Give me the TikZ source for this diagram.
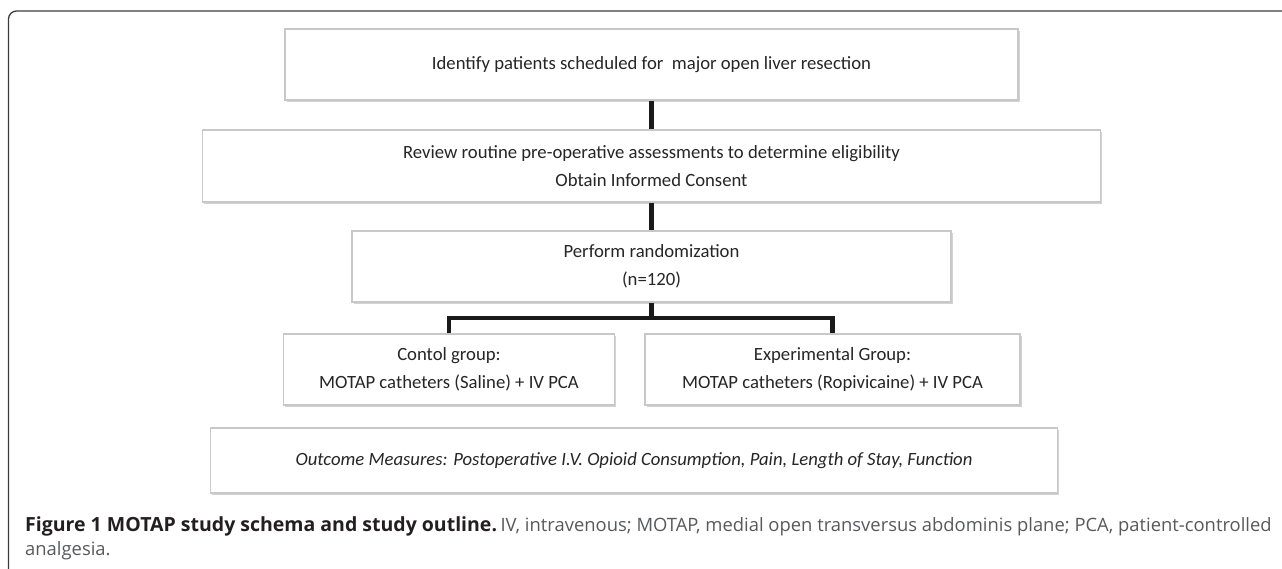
\documentclass[tikz,border=0pt]{standalone}
\usepackage{fontspec}
\setmainfont{Carlito}
\newfontfamily\capfont{Open Sans}
\usetikzlibrary{shadows}
\definecolor{boxline}{RGB}{200, 200, 200}
\definecolor{boxtext}{RGB}{38, 38, 38}
\definecolor{linkline}{RGB}{26, 26, 26}
\definecolor{frameline}{RGB}{60, 60, 60}
\definecolor{capbold}{RGB}{35, 31, 32}
\definecolor{captext}{RGB}{88, 89, 91}

\tikzset{
    stagebox/.style={draw=boxline, fill=white, line width=1.1pt, align=center, inner sep=0pt,
                     text=boxtext, font=\fontsize{18.7}{28.5}\selectfont,
                     drop shadow={shadow xshift=1.6pt, shadow yshift=-1.6pt, opacity=0.35, fill=gray}},
    link/.style={draw=linkline, line width=4.6pt},
}

\begin{document}
\begin{tikzpicture}[x=1pt, y=-1pt]
            \useasboundingbox (0,0) rectangle (1282,569);
            \draw[frameline, line width=1.3pt, rounded corners=8pt] (8.5,575) -- (8.5,11) -- (1290,11);
            \node[stagebox, minimum width=733, minimum height=71] (identify)   at (651.5, 64.5) {Identify patients scheduled for\ \ major open liver resection};
            \node[stagebox, minimum width=898, minimum height=72] (review)     at (651.5,166.0) {Review routine pre-operative assessments to determine eligibility\\Obtain Informed Consent};
            \node[stagebox, minimum width=599, minimum height=71] (randomize)  at (651.5,266.5) {Perform randomization\\(n=120)};
            \node[stagebox, minimum width=331, minimum height=71] (control)    at (449.0,369.5) {Contol group:\\MOTAP catheters (Saline) + IV PCA};
            \node[stagebox, minimum width=375, minimum height=71] (experiment) at (832.5,369.5) {Experimental Group:\\MOTAP catheters (Ropivicaine) + IV PCA};
            \node[stagebox, minimum width=847, minimum height=65] (outcome)    at (634.0,460.5) {\itshape Outcome Measures: Postoperative I.V. Opioid Consumption, Pain, Length of Stay, Function};
            \coordinate (fork) at (651.5,318);
            \draw[link] (identify.south) -- (review.north);
            \draw[link] (review.south) -- (randomize.north);
            \draw[link] (randomize.south) -- (fork);
            \draw[link] (control.north) |- (fork) -| (experiment.north);
            \node[anchor=base west, inner sep=0pt, font=\capfont] (capline) at (25,531)
                {\textcolor{capbold}{\fontsize{19.5}{24}\selectfont\bfseries Figure 1 MOTAP study schema and study outline.}
                 \textcolor{captext}{\fontsize{18.4}{24}\selectfont IV, intravenous; MOTAP, medial open transversus abdominis plane; PCA, patient-controlled}};
            \node[anchor=base west, inner sep=0pt, font=\capfont\fontsize{18.4}{24}\selectfont, text=captext] (capend) at (25,555) {analgesia.};
\end{tikzpicture}
\end{document}
